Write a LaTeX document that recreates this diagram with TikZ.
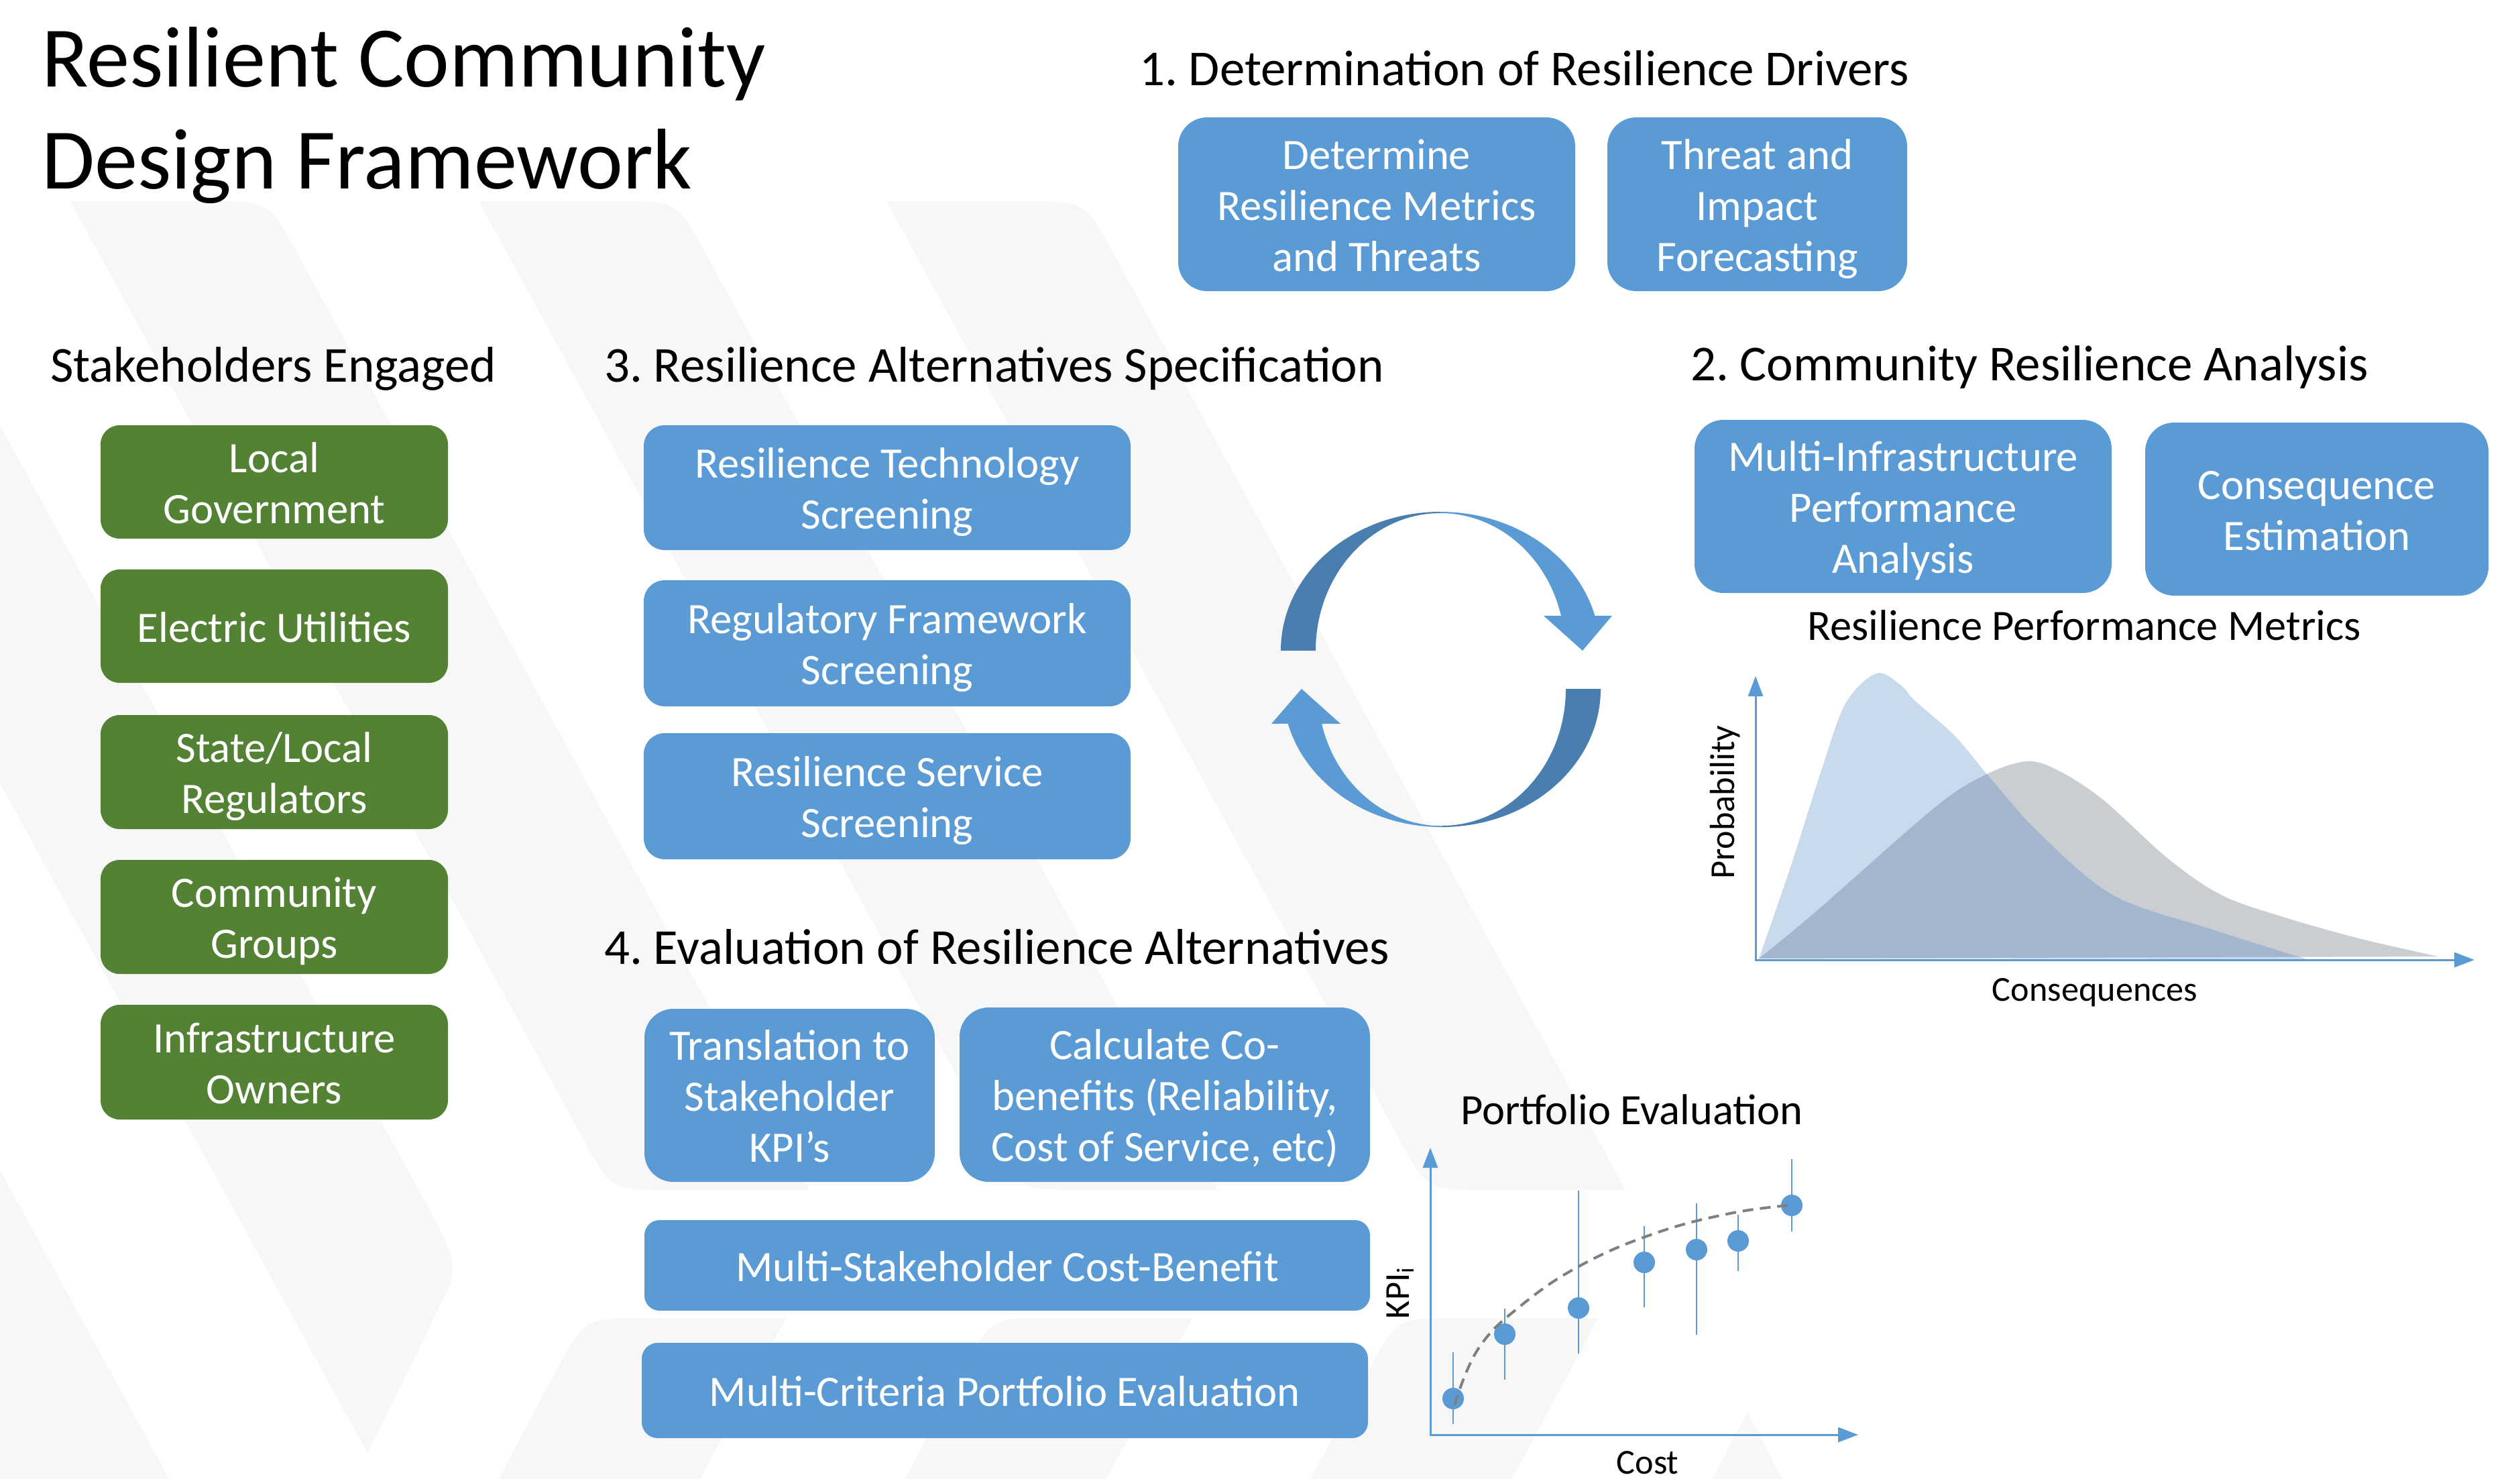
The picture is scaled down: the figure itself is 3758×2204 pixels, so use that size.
\documentclass[tikz,border=0pt]{standalone}
\usepackage{fontspec}
\setmainfont{Carlito}
\frenchspacing
\usetikzlibrary{arrows.meta}
\definecolor{boxblue}{RGB}{91,155,213}
\definecolor{boxgreen}{RGB}{84,130,53}
\definecolor{arrowdark}{RGB}{74,126,174}
\definecolor{wm}{RGB}{247,247,247}
\definecolor{curvegray}{RGB}{202,206,211}
\definecolor{curveblue}{RGB}{62,123,191}
\definecolor{dashgray}{RGB}{127,127,127}
\newcommand\mkbox[7]{%
 \pgfmathsetmacro\mbcx{(#2+#4)/2}%
 \pgfmathsetmacro\mbcy{(#3+#5)/2}%
 \pgfmathsetmacro\mbw{(#4-#2)*0.2}%
 \pgfmathsetmacro\mbh{(#5-#3)*0.2}%
 \pgfmathsetmacro\mbr{min(\mbw,\mbh)/6}%
 \node[boxnode, fill=#6, minimum width=\mbw pt, minimum height=\mbh pt, rounded corners=\mbr pt] (#1) at (\mbcx,\mbcy) {\rule{0pt}{13.04pt}#7\rule[-3.6pt]{0pt}{3.6pt}};}
\newcommand\mkband[1]{%
 \fill[wmark] (#1,300) -- ({#1+206},300) .. controls ({#1+296},300) .. ({#1+339},379) -- ({#1+1102},1774) -- ({#1+896},1774) .. controls ({#1+806},1774) .. ({#1+763},1695) -- cycle;}
\newcommand\mkbandup[1]{%
 \fill[wmark] ({#1+300},1965) -- ({#1+90},1965) .. controls (#1,1965) .. ({#1-43},2044) -- ({#1-131},2210) -- ({#1+169},2210) -- cycle;}
\tikzset{
 boxnode/.style={inner sep=0pt, text=white, align=center, font=\fontsize{12.95pt}{15.2pt}\selectfont},
 heading/.style={anchor=base west, inner sep=0pt, font=\fontsize{15pt}{18pt}\selectfont},
 titletext/.style={anchor=base west, inner sep=0pt, font=\fontsize{25.7pt}{30.4pt}\selectfont},
 charttitle/.style={inner sep=0pt, font=\fontsize{12.9pt}{15.2pt}\selectfont},
 small/.style={inner sep=0pt, font=\fontsize{10.45pt}{12.5pt}\selectfont},
 axis/.style={boxblue, line width=0.6pt, {Triangle[length=6pt,width=4.4pt]}-{Triangle[length=6pt,width=4.4pt]}},
 errbar/.style={boxblue, line width=0.5pt},
 dot/.style={fill=boxblue},
 wmark/.style={fill=wm},
 cyclelight/.style={fill=boxblue},
 cycledark/.style={fill=arrowdark},
}
\begin{document}
\begin{tikzpicture}[x=0.2pt, y=-0.2pt]
\useasboundingbox (0,0) rectangle (3758,2204);
\fill[white] (0,0) rectangle (3758,2204);
% watermark
\begin{scope}
\clip (0,0) rectangle (3758,2204);
\mkband{105}
\mkband{714}
\mkband{1322}
\fill[wmark] (-476,300) -- (-183,300) -- (645,1812) .. controls (680,1876) and (682,1900) .. (662,1935) -- (548,2166) -- cycle;
\fill[wmark] (-1085,300) -- (-792,300) -- (255,2210) -- (-600,2210) -- cycle;
\mkbandup{872}
\mkbandup{1478}
\mkbandup{2083}
\fill[wmark] (2606,2105) -- (2660,2210) -- (2552,2210) -- cycle;
\end{scope}
% title
\node[titletext] (title1) at (61,129) {Resilient Community};
\node[titletext] (title2) at (61,281) {Design Framework};
% headings
\node[heading] (h1) at (1698,127) {1. Determination of Resilience Drivers};
\node[heading] (hs) at (74,569) {Stakeholders Engaged};
\node[heading] (h3) at (900,569) {3. Resilience Alternatives Specification};
\node[heading] (h2) at (2520,567) {2. Community Resilience Analysis};
\node[heading] (h4) at (900,1437) {4. Evaluation of Resilience Alternatives};
% stakeholder boxes
\mkbox{g1}{150}{634}{668}{803}{boxgreen}{Local\\Government}
\mkbox{g2}{150}{849}{668}{1018}{boxgreen}{Electric Utilities}
\mkbox{g3}{150}{1066}{668}{1236}{boxgreen}{State/Local\\Regulators}
\mkbox{g4}{150}{1282}{668}{1452}{boxgreen}{Community\\Groups}
\mkbox{g5}{150}{1498}{668}{1669}{boxgreen}{Infrastructure\\Owners}
% step 1
\mkbox{t1}{1757}{175}{2349}{434}{boxblue}{Determine\\Resilience Metrics\\and Threats}
\mkbox{t2}{2397}{175}{2844}{434}{boxblue}{Threat and\\Impact\\Forecasting}
% step 2
\mkbox{a1}{2527}{626}{3149}{884}{boxblue}{Multi-Infrastructure\\Performance\\Analysis}
\mkbox{a2}{3199}{630}{3711}{888}{boxblue}{Consequence\\Estimation}
% step 3
\mkbox{s1}{960}{634}{1686}{820}{boxblue}{Resilience Technology\\Screening}
\mkbox{s2}{960}{865}{1686}{1053}{boxblue}{Regulatory Framework\\Screening}
\mkbox{s3}{960}{1093}{1686}{1281}{boxblue}{Resilience Service\\Screening}
% step 4
\mkbox{e1}{961}{1504}{1394}{1762}{boxblue}{Translation to\\Stakeholder\\KPI’s}
\mkbox{e2}{1431}{1502}{2043}{1762}{boxblue}{Calculate Co-\\benefits (Reliability,\\Cost of Service, etc)}
\mkbox{e3}{961}{1819}{2043}{1954}{boxblue}{Multi-Stakeholder Cost-Benefit}
\mkbox{e4}{957}{2002}{2040}{2144}{boxblue}{Multi-Criteria Portfolio Evaluation}
% cycle arrows
\fill[cycledark] (1910,970) arc[start angle=180,end angle=270,x radius=238,y radius=207] -- (2148,765) arc[start angle=270,end angle=180,x radius=186,y radius=205] -- cycle;
\fill[cyclelight] (2148,763) arc[start angle=270,end angle=345.5,x radius=238,y radius=207] -- (2404,918) -- (2360,970) -- (2302,918) -- (2328,918) arc[start angle=345.3,end angle=270,x radius=186,y radius=205] -- cycle;
\fill[cycledark] (2387,1027) arc[start angle=0,end angle=90,x radius=237,y radius=206] -- (2150,1231) arc[start angle=90,end angle=0,x radius=185,y radius=204] -- cycle;
\fill[cyclelight] (2150,1233) arc[start angle=90,end angle=165.4,x radius=237,y radius=206] -- (1896,1079) -- (1941,1027) -- (1999,1079) -- (1971,1079) arc[start angle=165.3,end angle=90,x radius=185,y radius=204] -- cycle;
% resilience performance metrics chart
\node[charttitle, anchor=base] (rpm) at (3108,954) {Resilience Performance Metrics};
\fill[curvegray] plot[smooth, tension=0.55] coordinates {(2623,1429) (2708,1359) (2885,1204) (2959,1156) (3022,1135) (3070,1149) (3137,1193) (3233,1280) (3314,1335) (3411,1369) (3522,1400) (3636,1426)} -- cycle;
\fill[curveblue, opacity=0.28] plot[smooth, tension=0.55] coordinates {(2623,1429) (2671,1290) (2715,1152) (2752,1049) (2798,1004) (2834,1021) (2856,1045) (2915,1097) (2967,1159) (3041,1242) (3152,1335) (3300,1386) (3440,1430)} -- cycle;
\draw[axis] (2618,1008) -- (2618,1431) -- (3690,1431);
\node[small, rotate=90, anchor=base] (prob) at (2586,1196) {Probability};
\node[small, anchor=base] (cons) at (3124,1492) {Consequences};
% portfolio evaluation chart
\node[charttitle, anchor=base west] (pe) at (2177,1676) {Portfolio Evaluation};
\draw[axis] (2133,1711) -- (2133,2139) -- (2771,2139);
\draw[errbar] (2167,2016) -- (2167,2123);
\draw[errbar] (2244,1951) -- (2244,2057);
\draw[errbar] (2354,1775) -- (2354,2018);
\draw[errbar] (2452,1828) -- (2452,1949);
\draw[errbar] (2530,1794) -- (2530,1990);
\draw[errbar] (2592,1811) -- (2592,1895);
\draw[errbar] (2672,1728) -- (2672,1836);
\foreach \px/\py in {2167/2085, 2244/1989, 2354/1950, 2452/1882, 2530/1863, 2592/1850, 2672/1797}
  \fill[dot] (\px,\py) circle[radius=3.2pt];
\draw[dashgray, line width=0.8pt, dash pattern=on 3.2pt off 2pt] plot[smooth, tension=0.7] coordinates {(2169,2095) (2205,2010) (2270,1945) (2360,1885) (2470,1838) (2580,1809) (2668,1797)};
\node[small, rotate=90, anchor=base] (kpi) at (2101,1927) {KPI\textsubscript{i}};
\node[small, anchor=base] (cost) at (2457,2197) {Cost};
\end{tikzpicture}
\end{document}
